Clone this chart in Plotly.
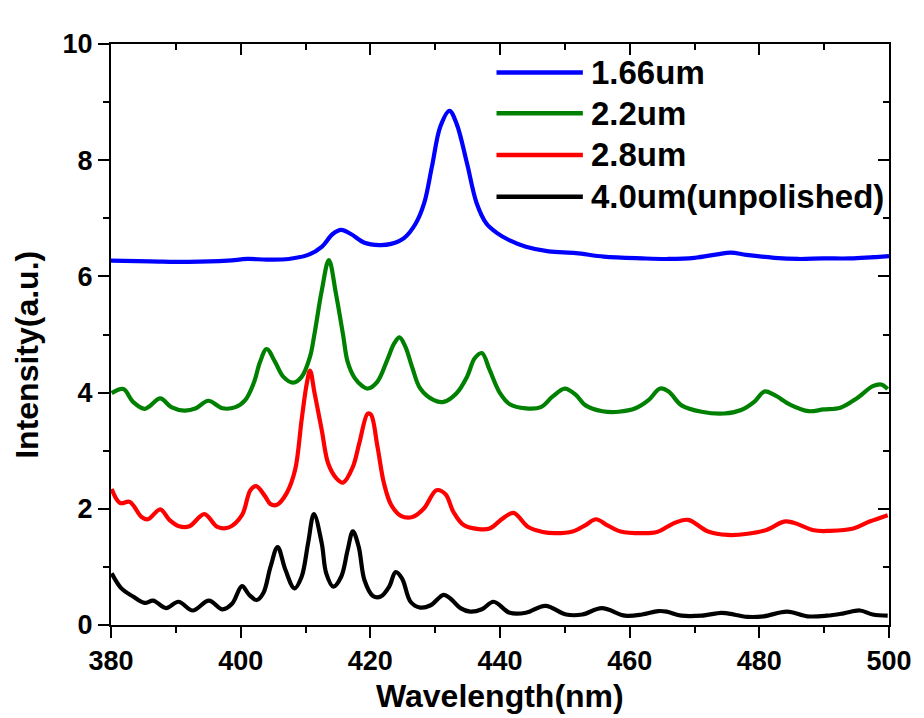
import plotly.graph_objects as go

# ---- data ----
wl_166 = [380, 386, 392, 398, 401, 404, 407.4, 410.4, 412.5, 414.2, 415.5, 417.0, 419.1, 421.4, 423.2,
          425.2, 427.0, 428.3, 429.5, 430.8, 432.2, 433.3, 434.9, 436.4, 437.9, 439.5, 441.5, 444, 447.5,
          451.7, 456, 461.9, 466, 470, 473.5, 475.6, 478, 482.3, 486, 489.9, 494, 500]
int_166 = [6.27, 6.26, 6.25, 6.27, 6.30, 6.29, 6.30, 6.37, 6.51, 6.73, 6.80, 6.73, 6.58, 6.54, 6.56,
           6.66, 6.91, 7.26, 7.89, 8.58, 8.85, 8.63, 7.95, 7.26, 6.91, 6.75, 6.62, 6.51, 6.43,
           6.40, 6.34, 6.31, 6.30, 6.32, 6.38, 6.41, 6.37, 6.32, 6.30, 6.31, 6.31, 6.35]

wl_22 = [380.1, 381.9, 383.4, 385.2, 386.0, 387.6, 389.3, 391.3, 393.1, 395.0, 397.2, 399.2, 400.7, 402.0,
         403.0, 404.0, 405.3, 406.6, 408.1, 409.4, 410.7, 411.4, 412.5, 413.6, 414.7, 415.8, 416.5, 417.6,
         418.8, 419.6, 421.1, 422.6, 423.7, 424.5, 425.4, 426.5, 427.7, 429.8, 431.3, 433.3, 434.9, 436.1,
         437.2, 438.4, 440.0, 441.5, 444.0, 446.3, 448.1, 450.0, 451.7, 453.2, 455.8, 458.3, 460.9, 462.9,
         464.7, 466.0, 468.0, 471.1, 474.6, 477.2, 479.2, 480.8, 482.3, 484.8, 487.6, 489.9, 492.5, 495.0,
         497.5, 498.8, 499.8]
int_22 = [3.99, 4.06, 3.84, 3.72, 3.77, 3.90, 3.75, 3.69, 3.73, 3.86, 3.73, 3.75, 3.87, 4.16,
          4.53, 4.75, 4.53, 4.27, 4.17, 4.27, 4.62, 5.02, 5.75, 6.28, 5.70, 4.99, 4.53, 4.25,
          4.11, 4.07, 4.19, 4.56, 4.85, 4.95, 4.79, 4.42, 4.07, 3.87, 3.84, 3.99, 4.27, 4.59,
          4.68, 4.39, 3.99, 3.80, 3.73, 3.75, 3.93, 4.07, 3.96, 3.78, 3.68, 3.67, 3.73, 3.87,
          4.07, 4.02, 3.78, 3.67, 3.64, 3.70, 3.84, 4.02, 3.96, 3.79, 3.68, 3.71, 3.74, 3.90,
          4.11, 4.14, 4.06]

wl_28 = [380.1, 381.4, 382.9, 384.7, 385.7, 387.6, 389.0, 390.5, 392.1, 394.4, 396.4, 398.2, 400.2, 401.5,
         402.4, 403.8, 404.6, 405.6, 407.1, 408.4, 409.4, 410.2, 410.7, 411.4, 412.5, 413.5, 414.8, 415.8,
         417.3, 418.3, 419.6, 420.1, 421.1, 422.1, 423.2, 424.7, 426.5, 428.3, 430.2, 431.6, 432.8, 434.4,
         436.7, 438.4, 440.5, 442.1, 444.3, 446.6, 448.6, 451.2, 453.2, 454.8, 456.5, 458.6, 461.9, 464.2,
         467.0, 469.0, 472.1, 475.1, 478.2, 481.2, 483.8, 485.3, 488.4, 490.9, 494.5, 497.0, 499.8]
int_28 = [2.34, 2.10, 2.12, 1.86, 1.82, 1.99, 1.81, 1.70, 1.70, 1.91, 1.69, 1.68, 1.89, 2.32,
          2.39, 2.21, 2.08, 2.07, 2.27, 2.67, 3.53, 4.16, 4.38, 3.99, 3.36, 2.78, 2.52, 2.45,
          2.72, 3.13, 3.64, 3.62, 3.07, 2.44, 2.07, 1.88, 1.86, 2.01, 2.32, 2.25, 1.95, 1.72,
          1.65, 1.66, 1.84, 1.93, 1.69, 1.60, 1.58, 1.61, 1.72, 1.82, 1.72, 1.61, 1.58, 1.60,
          1.76, 1.81, 1.61, 1.55, 1.57, 1.64, 1.78, 1.76, 1.63, 1.62, 1.66, 1.78, 1.89]

wl_40 = [380.1, 381.6, 383.4, 385.2, 386.5, 388.5, 390.4, 392.6, 395.1, 397.2, 398.7, 400.2, 401.3, 402.5,
         403.5, 404.6, 405.7, 406.9, 408.3, 409.4, 410.4, 411.3, 412.5, 413.2, 414.3, 415.5, 416.5, 417.3,
         418.2, 419.1, 420.4, 421.6, 422.9, 423.9, 424.9, 426.2, 427.7, 429.3, 431.3, 432.3, 433.9, 435.4,
         437.2, 439.0, 441.5, 444.0, 447.0, 450.2, 452.7, 455.7, 459.3, 461.9, 464.4, 465.7, 468.0, 471.1,
         474.1, 475.1, 478.2, 480.7, 484.3, 487.4, 490.4, 493.0, 495.5, 497.5, 499.8]
int_40 = [0.89, 0.63, 0.49, 0.38, 0.42, 0.29, 0.40, 0.25, 0.42, 0.27, 0.37, 0.67, 0.52, 0.43,
          0.55, 1.00, 1.34, 0.95, 0.63, 0.83, 1.41, 1.91, 1.41, 0.89, 0.66, 0.83, 1.29, 1.61,
          1.35, 0.77, 0.50, 0.49, 0.66, 0.91, 0.80, 0.40, 0.30, 0.34, 0.52, 0.46, 0.29, 0.23,
          0.27, 0.40, 0.21, 0.21, 0.33, 0.18, 0.18, 0.29, 0.16, 0.18, 0.24, 0.23, 0.16, 0.16,
          0.21, 0.20, 0.14, 0.15, 0.23, 0.15, 0.16, 0.20, 0.25, 0.18, 0.16]

series_names = ["1.66um", "2.2um", "2.8um", "4.0um(unpolished)"]
series_colors = ["#0000FF", "#008000", "#FF0000", "#000000"]
series_x = [wl_166, wl_22, wl_28, wl_40]
series_y = [int_166, int_22, int_28, int_40]

x_range = [380, 500]
y_range = [0, 10]
x_ticks = [380, 400, 420, 440, 460, 480, 500]
y_ticks = [0, 2, 4, 6, 8, 10]

FONT = "Liberation Sans, Arial, sans-serif"

fig = go.Figure()
for name, col, xs, ys in zip(series_names, series_colors, series_x, series_y):
    fig.add_trace(go.Scatter(x=xs, y=ys, mode="lines", name=name, showlegend=False,
                             line=dict(color=col, width=4.2, shape="spline", smoothing=1.0)))

# empty helper traces so the top / right frame axes are drawn
fig.add_trace(go.Scatter(x=[None], y=[None], xaxis="x2", yaxis="y", showlegend=False, hoverinfo="skip"))
fig.add_trace(go.Scatter(x=[None], y=[None], xaxis="x", yaxis="y2", showlegend=False, hoverinfo="skip"))

axis_common = dict(showline=True, linewidth=2, linecolor="black", showgrid=False, zeroline=False,
                   tickwidth=2, tickcolor="black", ticklen=11)

fig.update_layout(
    width=924, height=718,
    margin=dict(l=111, r=28, t=44, b=93),
    paper_bgcolor="white", plot_bgcolor="white",
    font=dict(family=FONT, color="black"),
    xaxis=dict(range=x_range, tickvals=x_ticks, ticks="outside",
               tickfont=dict(size=27, family=FONT, weight="bold"),
               minor=dict(tickvals=list(range(390, 500, 20)), ticks="outside", ticklen=6, tickwidth=2,
                          tickcolor="black"),
               **axis_common),
    yaxis=dict(range=y_range, tickvals=y_ticks, ticks="outside",
               tickfont=dict(size=27, family=FONT, weight="bold"),
               minor=dict(tickvals=[1, 3, 5, 7, 9], ticks="outside", ticklen=6, tickwidth=2,
                          tickcolor="black"),
               **axis_common),
    xaxis2=dict(range=x_range, overlaying="x", side="top", anchor="y", tickvals=x_ticks, ticks="inside",
                showticklabels=False,
                minor=dict(tickvals=list(range(390, 500, 20)), ticks="inside", ticklen=6, tickwidth=2,
                           tickcolor="black"),
                **axis_common),
    yaxis2=dict(range=y_range, overlaying="y", side="right", anchor="x", tickvals=y_ticks, ticks="inside",
                showticklabels=False,
                minor=dict(tickvals=[1, 3, 5, 7, 9], ticks="inside", ticklen=6, tickwidth=2,
                           tickcolor="black"),
                **axis_common),
)

# axis titles
fig.add_annotation(text="Wavelength(nm)", xref="paper", yref="paper", x=0.5, y=-0.122,
                   xanchor="center", yanchor="middle", showarrow=False,
                   font=dict(size=32, family=FONT, weight="bold", color="black"))
fig.add_annotation(text="Intensity(a.u.)", xref="paper", yref="paper", x=-0.108, y=0.465,
                   xanchor="center", yanchor="middle", showarrow=False, textangle=-90,
                   font=dict(size=32, family=FONT, weight="bold", color="black"))

# manual legend (long line samples like the reference)
leg_y = [0.951, 0.881, 0.809, 0.737]
for name, col, ly in zip(series_names, series_colors, leg_y):
    fig.add_shape(type="line", xref="paper", yref="paper", x0=0.4955, x1=0.6065, y0=ly, y1=ly,
                  line=dict(color=col, width=4.5))
    fig.add_annotation(text=name, xref="paper", yref="paper", x=0.614, y=ly,
                       xanchor="left", yanchor="middle", showarrow=False,
                       font=dict(size=33, family=FONT, weight="bold", color="black"))

fig.write_html("out.html")
